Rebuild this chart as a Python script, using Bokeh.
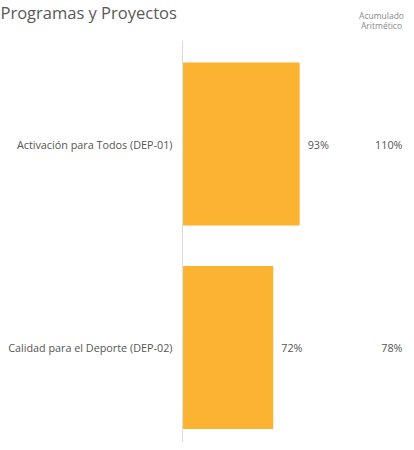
from bokeh.plotting import figure
from bokeh.models import Range1d, ColumnDataSource
from bokeh.core.properties import value
from bokeh.embed import file_html
from bokeh.resources import INLINE

# ---- data ----
categories = ["Activación para Todos (DEP-01)", "Calidad para el Deporte (DEP-02)"]
avance = [93, 72]
acumulado = [110, 78]
title_text = "Programas y Proyectos"
header_lines = ["Acumulado", "Aritmético"]

FONT = value("Open Sans")
BAR_COLOR = "#FBB331"

W, H = 406, 442
x0_px = 182.0          # pixel of value 0
px_per_unit = 1.26
y0_px = 143.5          # pixel centre of first category
px_per_cat = 203.5

x_range = Range1d(-x0_px / px_per_unit, (W - x0_px) / px_per_unit)
y_range = Range1d(1 + (H - (y0_px + px_per_cat)) / px_per_cat, -y0_px / px_per_cat)

p = figure(width=W, height=H, x_range=x_range, y_range=y_range,
           output_backend="svg", toolbar_location=None,
           min_border=0, outline_line_color=None,
           background_fill_color="white", border_fill_color="white")
p.axis.visible = False
p.grid.visible = False

ypos = list(range(len(categories)))
src = ColumnDataSource(dict(
    y=ypos, cat=categories, av=avance, ac=acumulado,
    av_lbl=[f"{v}%" for v in avance],
    ac_lbl=[f"{v}%" for v in acumulado],
    zero=[0] * len(categories),
))

# bars
p.hbar(y="y", left="zero", right="av", height=0.8, source=src,
       fill_color=BAR_COLOR, line_color=None)

# vertical axis line
axis_top = y_range.end + 40 / px_per_cat
p.segment(x0=[0], y0=[axis_top], x1=[0], y1=[y_range.start],
          line_color="#dedede", line_width=1.2)

LBL_SIZE = "10.8px"
# category labels
p.text(x="zero", y="y", text="cat", source=src, x_offset=-10,
       text_align="right", text_baseline="middle",
       text_font=FONT, text_font_size=LBL_SIZE, text_color="#555555")

# value labels
p.text(x="av", y="y", text="av_lbl", source=src, x_offset=8,
       text_align="left", text_baseline="middle",
       text_font=FONT, text_font_size=LBL_SIZE, text_color="#555555")

# cumulative column
col_x = x_range.end - 4 / px_per_unit
src.data["colx"] = [col_x] * len(categories)
p.text(x="colx", y="y", text="ac_lbl", source=src,
       text_align="right", text_baseline="middle",
       text_font=FONT, text_font_size=LBL_SIZE, text_color="#555555")

# header of cumulative column
hx = x_range.end - 25 / px_per_unit
hy0 = y_range.end + 9 / px_per_cat
p.text(x=[hx, hx], y=[hy0, hy0 + 10 / px_per_cat], text=header_lines,
       text_align="center", text_baseline="top",
       text_font=FONT, text_font_size="8.5px", text_color="#8a8a8a")

# title
p.text(x=[x_range.start], y=[y_range.end], text=[title_text],
       text_align="left", text_baseline="top",
       text_font=FONT, text_font_size="16.5px", text_color="#595959")

open("out.html", "w").write(file_html(p, INLINE))
